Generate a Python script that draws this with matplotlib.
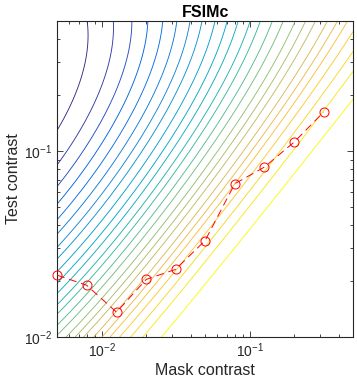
import numpy as np
import matplotlib
matplotlib.use('Agg')
import matplotlib.pyplot as plt
from matplotlib.colors import LinearSegmentedColormap

plt.rcParams['font.family'] = ['Liberation Sans', 'DejaVu Sans']
plt.rcParams['mathtext.default'] = 'regular'

# measured thresholds (red curve)
mask_contrast = [0.005, 0.0079, 0.0126, 0.02, 0.0316, 0.05, 0.0794, 0.126, 0.2, 0.316]
test_contrast = [0.0215, 0.019, 0.0136, 0.0204, 0.0231, 0.033, 0.0667, 0.082, 0.1117, 0.162]

# where the contour lines leave the plot (yellow -> blue)
right_edge_test = [0.190, 0.268, 0.343, 0.439]          # at mask = 0.5
top_edge_mask = [0.452, 0.387, 0.331, 0.275, 0.236, 0.201, 0.167, 0.141,
                 0.117, 0.100, 0.083, 0.070, 0.058, 0.0474, 0.0394, 0.0321,
                 0.0258, 0.0205, 0.0160, 0.0120, 0.0080]  # at test = 0.49

# metric surface parameters (log-contrast model)
W0 = -0.47       # log ratio where the contour fan converges
FAN_TOP = 1.4    # contour spread at the top relative to the bottom
FAN_CURVE = 1.7  # how fast the spread grows with test contrast
M0 = 0.0015      # low-mask floor

# MATLAB parula (every 4th entry of the 64-colour table)
parula = LinearSegmentedColormap.from_list('parula', [
    (0.2081, 0.1663, 0.5292), (0.1959, 0.2645, 0.7279), (0.0117, 0.3875, 0.8820),
    (0.0498, 0.4586, 0.8641), (0.0793, 0.5200, 0.8312), (0.0343, 0.5966, 0.8199),
    (0.0228, 0.6535, 0.7768), (0.0843, 0.6928, 0.7062), (0.2178, 0.7250, 0.6193),
    (0.3953, 0.7459, 0.5244), (0.5709, 0.7485, 0.4494), (0.7184, 0.7411, 0.3905),
    (0.8507, 0.7299, 0.3360), (0.9739, 0.7314, 0.2666), (0.9955, 0.7861, 0.1967),
    (0.9626, 0.8705, 0.1309), (0.9763, 0.9831, 0.0538)])

xlim = (0.005, 0.5)
ylim = (0.01, 0.49)
u_lo, u_hi = np.log10(ylim[0]), np.log10(ylim[1])
fan_a = (FAN_TOP - 1) / (np.exp(FAN_CURVE * (u_hi - u_lo)) - 1)


def surface(u, v):
    w = u - np.log10(10 ** v + M0)
    q = 1 + fan_a * (np.exp(FAN_CURVE * (u - u_lo)) - 1)
    return W0 + (w - W0) / q


levels = [surface(np.log10(t), np.log10(xlim[1])) for t in right_edge_test]
levels += [surface(u_hi, np.log10(m)) for m in top_edge_mask]
levels = np.array(levels)

mv = np.linspace(np.log10(xlim[0]), np.log10(xlim[1]), 500)
tv = np.linspace(u_lo, np.log10(0.5), 500)
V, U = np.meshgrid(mv, tv)
Z = surface(U, V)

n = len(levels)
line_colors = [parula(1 - i / (n - 1)) for i in range(n)]

fig = plt.figure(figsize=(3.57, 3.84), dpi=100)
ax = fig.add_axes([0.16, 0.1224, 0.829, 0.8229])
ax.contour(10 ** V, 10 ** U, Z, levels=levels, colors=line_colors, linewidths=0.65)
ax.plot(mask_contrast, test_contrast, 'o--', color='red', markerfacecolor='none',
        markersize=6.5, markeredgewidth=0.7, linewidth=0.7, dashes=(8, 5),
        clip_on=False, zorder=5)

ax.set_xscale('log')
ax.set_yscale('log')
ax.set_xlim(*xlim)
ax.set_ylim(0.01, 0.5)
ax.tick_params(which='both', direction='in', top=True, right=True, labelsize=10,
               colors='#262626', width=0.6)
ax.tick_params(which='major', length=4)
ax.tick_params(which='minor', length=2)
for s in ax.spines.values():
    s.set_linewidth(0.8)
    s.set_color('#262626')
ax.set_xlabel('Mask contrast', fontsize=11.5, color='#262626', labelpad=2)
ax.set_ylabel('Test contrast', fontsize=11.5, color='#262626', labelpad=2)
ax.set_title('FSIMc', fontsize=11.5, fontweight='bold', pad=3)

fig.savefig('out.png', dpi=100)
